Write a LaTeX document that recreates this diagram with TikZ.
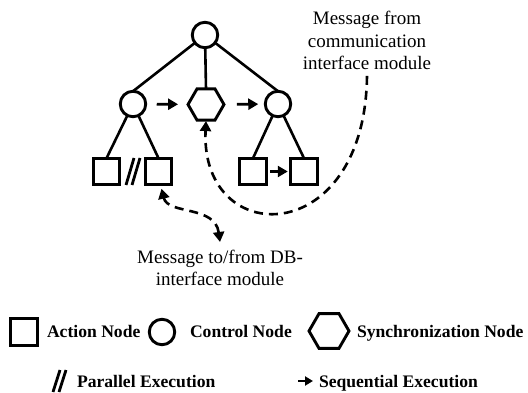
\documentclass[tikz,border=0pt]{standalone}
\usepackage{fontspec}
\setmainfont{Liberation Serif}
\usetikzlibrary{arrows.meta,shapes.geometric}
\begin{document}
\begin{tikzpicture}[x=1pt,y=-1pt,
  every node/.style={inner sep=0pt,outer sep=0pt},
  ctrl/.style={circle,draw,line width=2.9pt,minimum size=25.5pt},
  act/.style={rectangle,draw,line width=2.9pt,minimum size=26.5pt},
  sync/.style={regular polygon,regular polygon sides=6,draw,line width=2.9pt,minimum size=36pt},
  edge/.style={line width=2.6pt},
  seq/.style={line width=2.8pt,-{Triangle[length=10pt,width=11pt]}},
  msgline/.style={line width=2.6pt,dash pattern=on 9pt off 6pt},
  lbl/.style={font=\fontsize{19}{22.5}\selectfont,align=center},
  leg/.style={font=\fontsize{17.6}{21}\selectfont\bfseries,anchor=base west},
  par/.style={line width=2.8pt}
]
\useasboundingbox (0,0) rectangle (528,393);

% tree nodes
\node[ctrl] (top) at (205,35) {};
\node[ctrl] (c1) at (133,104) {};
\node[sync] (hx) at (206,104.5) {};
\node[ctrl] (c2) at (278,104) {};
\node[act] (a1) at (106.5,171.5) {};
\node[act] (a2) at (158.5,171.5) {};
\node[act] (a3) at (253,171.5) {};
\node[act] (a4) at (304,171.5) {};

% tree edges
\draw[edge] (top) -- (c1.north);
\draw[edge] (top) -- (hx.north);
\draw[edge] (top) -- (c2.north);
\draw[edge] (c1) -- (a1.north);
\draw[edge] (c1) -- (a2.north);
\draw[edge] (c2) -- (a3.north);
\draw[edge] (c2) -- (a4.north);

% sequential arrows
\draw[seq, shorten <=11pt, shorten >=10pt] (c1) -- (hx);
\draw[seq, shorten <=13pt, shorten >=7pt] (hx) -- (c2);
\draw[seq, shorten <=4pt, shorten >=3pt] (a3) -- (a4);

% parallel marks
\draw[par] (126,185) -- (134,158);
\draw[par] (132,185) -- (140,158);

% messages
\node[lbl] (msg1) at (367,40.5) {Message from\\communication\\interface module};
\node[lbl] (msg2) at (220,268) {Message to/from DB-\\interface module};

\draw[msgline, -{Triangle[length=10pt,width=11pt]}]
  ([yshift=-6pt]msg1.south) .. controls (365,250) and (200,250) .. ([yshift=-1pt]hx.south);
\draw[msgline, {Triangle[length=10pt,width=11pt]}-{Triangle[length=10pt,width=11pt]}]
  ([shift={(3,4)}]a2.south) .. controls (168,215) and (215,205) .. ([yshift=8pt]msg2.north);

% legend
\node[act] (la) at (24,332) {};
\node[leg] (lta) at (47,337) {Action Node};
\node[ctrl] (lc) at (162,332) {};
\node[leg] (ltc) at (190,337) {Control Node};
\node[sync, minimum size=40pt] (lh) at (329,331) {};
\node[leg] (lth) at (357,337) {Synchronization Node};

\draw[par] (53,392) -- (60,370);
\draw[par] (59,392) -- (66,370);
\node[leg] (ltp) at (77,387) {Parallel Execution};
\coordinate (sqa) at (298,381);
\coordinate (sqb) at (313,381);
\draw[line width=2.2pt,-{Triangle[length=8pt,width=9pt]}] (sqa) -- (sqb);
\node[leg] (lts) at (319,387) {Sequential Execution};
\end{tikzpicture}
\end{document}
